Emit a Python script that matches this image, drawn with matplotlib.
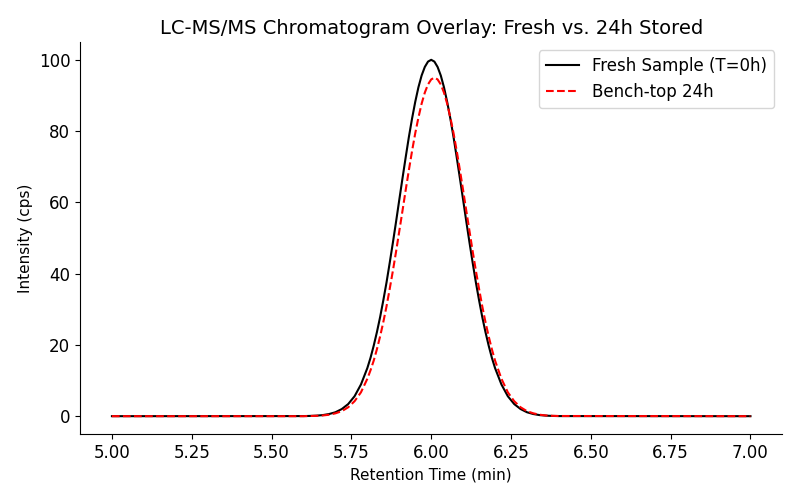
import matplotlib
matplotlib.use("Agg")
import matplotlib.pyplot as plt

# retention time points (min)
time = [5.00,
        5.60, 5.62, 5.64, 5.66, 5.68, 5.70, 5.72, 5.74, 5.76, 5.78,
        5.80, 5.81, 5.82, 5.83, 5.84, 5.85, 5.86, 5.87, 5.88, 5.89,
        5.90, 5.91, 5.92, 5.93, 5.94, 5.95, 5.96, 5.97, 5.98, 5.99,
        6.00, 6.01, 6.02, 6.03, 6.04, 6.05, 6.06, 6.07, 6.08, 6.09,
        6.10, 6.11, 6.12, 6.13, 6.14, 6.15, 6.16, 6.17, 6.18, 6.19,
        6.20,
        6.22, 6.24, 6.26, 6.28, 6.30, 6.32, 6.34, 6.36, 6.38, 6.40,
        7.00]

fresh = [0.0,
         0.03, 0.07, 0.15, 0.3, 0.6, 1.1, 2.0, 3.4, 5.6, 8.9,
         13.5, 16.4, 19.8, 23.6, 27.8, 32.5, 37.5, 43.0, 48.7, 54.6,
         60.7, 66.7, 72.6, 78.3, 83.5, 88.2, 92.3, 95.6, 98.0, 99.5,
         100.0, 99.5, 98.0, 95.6, 92.3, 88.2, 83.5, 78.3, 72.6, 66.7,
         60.7, 54.6, 48.7, 43.0, 37.5, 32.5, 27.8, 23.6, 19.8, 16.4,
         13.5,
         8.9, 5.6, 3.4, 2.0, 1.1, 0.6, 0.3, 0.15, 0.07, 0.03,
         0.0]

stored_24h = [0.0,
              0.0, 0.05, 0.1, 0.2, 0.4, 0.8, 1.4, 2.5, 4.2, 6.7,
              10.5, 12.9, 15.6, 18.8, 22.4, 26.4, 30.8, 35.7, 40.8, 46.2,
              51.9, 57.6, 63.4, 69.0, 74.4, 79.4, 83.8, 87.7, 90.8, 93.1,
              94.5, 95.0, 94.5, 93.1, 90.8, 87.7, 83.8, 79.4, 74.4, 69.0,
              63.4, 57.6, 51.9, 46.2, 40.8, 35.7, 30.8, 26.4, 22.4, 18.8,
              15.6,
              10.5, 6.7, 4.2, 2.5, 1.4, 0.8, 0.4, 0.2, 0.1, 0.05,
              0.0]

fig, ax = plt.subplots(figsize=(8, 5), dpi=100)
fig.subplots_adjust(left=0.1, right=0.978, top=0.916, bottom=0.132)

ax.plot(time, fresh, color='black', linewidth=1.5, label='Fresh Sample (T=0h)')
ax.plot(time, stored_24h, color='red', linestyle='--', linewidth=1.5, label='Bench-top 24h')

ax.set_title('LC-MS/MS Chromatogram Overlay: Fresh vs. 24h Stored', fontsize=14)
ax.set_xlabel('Retention Time (min)', fontsize=11)
ax.set_ylabel('Intensity (cps)', fontsize=11)
ax.tick_params(labelsize=12)
ax.spines['top'].set_visible(False)
ax.spines['right'].set_visible(False)
ax.legend(loc='upper right', fontsize=12)

fig.savefig('out.png', dpi=100)
